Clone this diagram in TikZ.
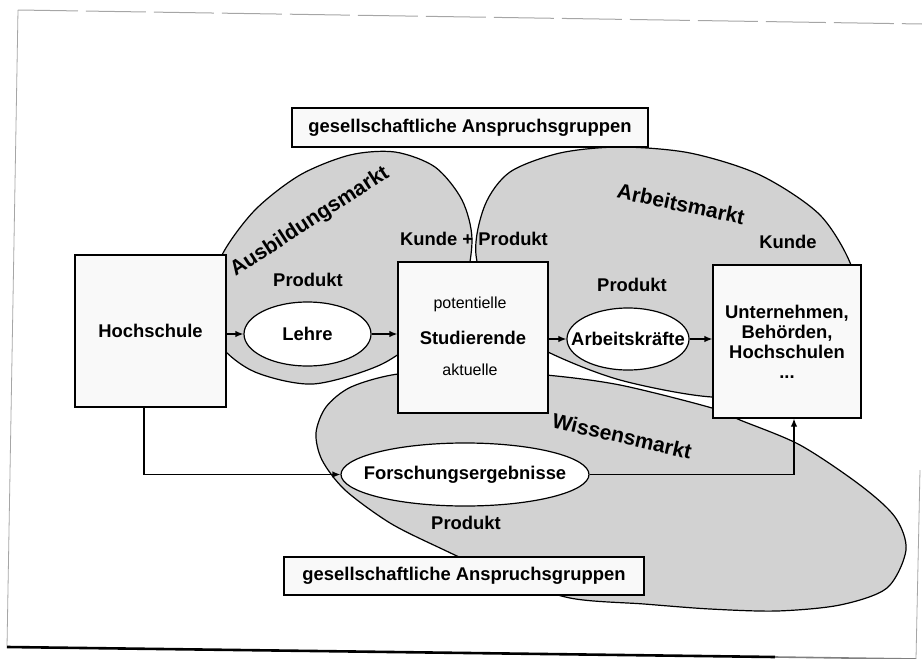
\documentclass[tikz,border=0pt]{standalone}
\usepackage{fontspec}
\setmainfont{Liberation Sans}
\usetikzlibrary{shapes.geometric, arrows.meta}
\tikzstyle{every node}=[font=\fontsize{9.2}{10}\selectfont\bfseries]
\tikzstyle{box}=[draw, fill=gray!5, line width=0.6pt, inner sep=0pt, align=center]
\tikzstyle{oval}=[draw, ellipse, fill=white, line width=0.6pt, inner xsep=-6.8pt, inner ysep=0pt]
\tikzstyle{market}=[font=\fontsize{10.5}{12}\selectfont\bfseries]
\tikzstyle{minor}=[font=\fontsize{8}{9}\selectfont]
\tikzstyle{blob}=[draw, fill=gray!35, line width=0.6pt]
\tikzstyle{flow}=[-{Latex[length=4pt,width=3.2pt]}, line width=0.6pt]

\begin{document}
\begin{tikzpicture}[x=0.5pt, y=-0.5pt]
\useasboundingbox (0,0) rectangle (922,659);
% Page edges
    \draw[gray!70, line width=0.5pt, dash pattern=on 30pt off 4pt] (18,10) -- (922,24);
    \draw[gray!70, line width=0.4pt] (18,10) -- (7,647);
    \draw[line width=1.3pt] (7,647) -- (775,657);
    \draw[gray, line width=0.8pt] (775,657) -- (916,659);
    \draw[gray!70, line width=0.4pt] (920,470) -- (916,659);
% Markets
    \draw[blob] plot[smooth cycle] coordinates {(207,305) (222,255) (255,210) (300,175) (350,155) (395,152) (435,167) (462,200) (472,240) (462,290) (425,333) (380,365) (313,384) (255,372) (220,345)};
    \draw[blob] plot[smooth cycle] coordinates {(476,255) (485,205) (510,172) (560,153) (620,147) (690,153) (760,175) (820,215) (852,268) (850,310) (830,355) (790,390) (712,397) (620,380) (548,352) (498,320)};
    \draw[blob] plot[smooth cycle] coordinates {(398,374) (351,387) (326,407) (316,433) (322,460) (345,490) (390,523) (440,548) (500,575) (570,598) (644,604) (710,609) (777,611) (840,605) (887,588) (906,550) (895,517) (860,485) (800,445) (740,420) (712,408) (620,385) (546,375) (470,371)};
% Market labels
    \node[market, rotate=33] (ausb) at (310,222) {Ausbildungsmarkt};
    \node[market, rotate=-12] (arbm) at (681,204) {Arbeitsmarkt};
    \node[market, rotate=-13] (wism) at (622,436) {Wissensmarkt};
    \node (kp) at (474,239) {Kunde + Produkt};
    \node (kunde) at (788,242) {Kunde};
    \node (p1) at (308,280) {Produkt};
    \node (p2) at (632,285) {Produkt};
    \node (p3) at (466,523) {Produkt};
% Boxes and products
    \node[box, minimum width=178pt, minimum height=19.5pt] (top) at (470,127.5) {gesellschaftliche Anspruchsgruppen};
    \node[box, minimum width=180pt, minimum height=19pt] (bot) at (464,576) {gesellschaftliche Anspruchsgruppen};
    \node[box, minimum width=75.5pt, minimum height=76pt] (hs) at (150.5,331) {Hochschule};
    \node[oval, minimum width=63.5pt, minimum height=32pt] (lehre) at (307.5,334) {Lehre};
    \node[box, minimum width=75pt, minimum height=75.5pt] (stud) at (473,337.5) {Studierende};
    \node[minor] (pot) at (470,304) {potentielle};
    \node[minor] (akt) at (470,370) {aktuelle};
    \node[oval, minimum width=61pt, minimum height=31pt] (ak) at (628,339) {Arbeitskräfte};
    \node[box, minimum width=74pt, minimum height=76.5pt] (un) at (787,341.5) {Unternehmen,\\Behörden,\\Hochschulen\\...};
    \node[oval, minimum width=124pt, minimum height=31.5pt] (fe) at (465,474.5) {Forschungsergebnisse};
% Flows
    \draw[flow] (lehre.west -| hs.east) -- (lehre.west);
    \draw[flow] (lehre.east) -- (lehre.east -| stud.west);
    \draw[flow] (stud.east |- ak.west) -- (ak.west);
    \draw[flow] (ak.east) -- (ak.east -| un.west);
    \draw[flow] ([xshift=-3.25pt]hs.south) |- (fe);
    \draw[flow] (fe) -| ([xshift=3.5pt]un.south);
\end{tikzpicture}
\end{document}
